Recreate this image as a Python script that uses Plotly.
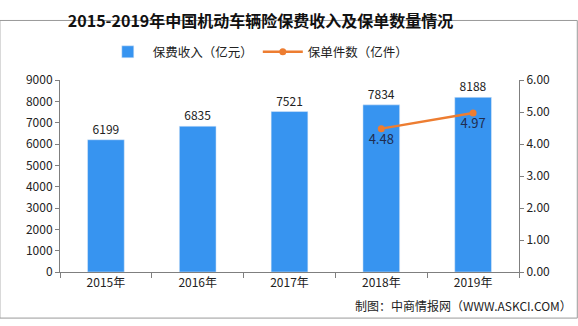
import plotly.graph_objects as go

years = ["2015年", "2016年", "2017年", "2018年", "2019年"]
premium = [6199, 6835, 7521, 7834, 8188]
policy_years = ["2018年", "2019年"]
policies = [4.48, 4.97]

FONT = "Noto Sans CJK SC"
AXIS = "#7f7f7f"

fig = go.Figure()
fig.add_trace(go.Bar(
    x=years, y=premium, name="保费收入（亿元）",
    marker_color="#3794F0", width=0.4,
    text=[str(v) for v in premium], textposition="outside",
    textfont=dict(size=12, color="#222222", family=FONT),
    cliponaxis=False,
))
fig.add_trace(go.Scatter(
    x=policy_years, y=policies, name="保单件数（亿件）", yaxis="y2",
    mode="lines+markers+text",
    line=dict(color="#ED7D31", width=2.5),
    marker=dict(color="#ED7D31", size=7),
    text=[f"{v:.2f}" for v in policies], textposition="bottom center",
    textfont=dict(size=13, color="#1f2d50", family=FONT),
))

fig.update_layout(
    width=578, height=326,
    margin=dict(l=60, r=59, t=80, b=54),
    paper_bgcolor="white", plot_bgcolor="white",
    font=dict(family=FONT, size=12, color="#222222"),
    title=dict(text="<b>2015-2019年中国机动车辆险保费收入及保单数量情况</b>",
               xref="paper", x=0.437, xanchor="center", y=0.935, yanchor="middle",
               font=dict(size=16, color="#111111", family=FONT)),
    legend=dict(orientation="h", x=0.432, xanchor="center", y=1.145, yanchor="middle",
                font=dict(size=12.5, color="#222222"), itemwidth=40),
    showlegend=True,
    bargap=0.6,
    xaxis=dict(showline=True, linecolor=AXIS, linewidth=1, ticks="outside",
               tickcolor=AXIS, ticklen=5, tickson="boundaries",
               tickfont=dict(size=12, color="#222222"), showgrid=False),
    yaxis=dict(range=[0, 9000], dtick=1000, showline=True, linecolor=AXIS,
               ticks="outside", tickcolor=AXIS, ticklen=4, showgrid=False,
               zeroline=False, tickfont=dict(size=12, color="#222222")),
    yaxis2=dict(range=[0, 6], dtick=1, tickformat=".2f", overlaying="y", side="right",
                showline=True, linecolor=AXIS, ticks="outside", tickcolor=AXIS,
                ticklen=4, showgrid=False, zeroline=False,
                tickfont=dict(size=12, color="#222222")),
    shapes=[dict(type="rect", xref="paper", yref="paper", x0=-0.131, x1=1.127,
                 y0=-0.24, y1=1.31, line=dict(color="#9a9a9a", width=1))],
    annotations=[dict(text="制图：中商情报网（WWW.ASKCI.COM）", xref="paper", yref="paper",
                      x=1.12, xanchor="right", y=-0.175, yanchor="middle", showarrow=False,
                      font=dict(size=12, color="#222222"))],
)

fig.write_html("out.html")
